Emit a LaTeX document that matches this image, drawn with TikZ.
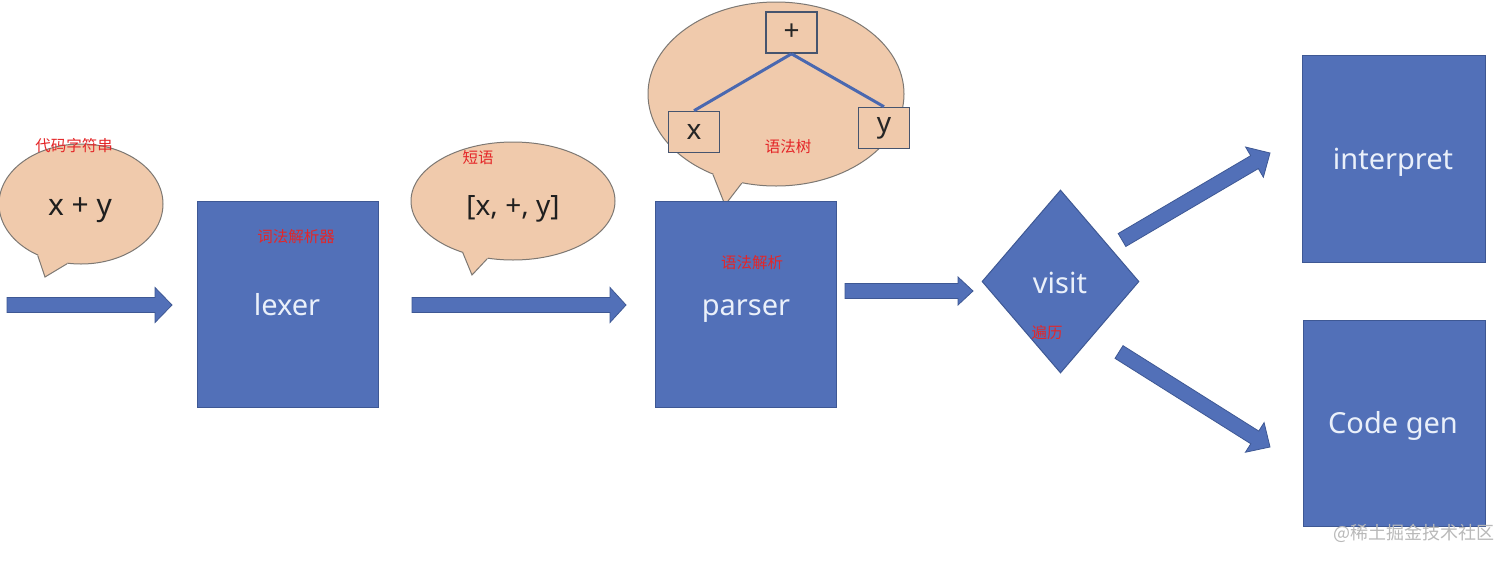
\documentclass[tikz,border=0pt]{standalone}
\usepackage{fontspec}
\setmainfont{Noto Sans}
\newfontfamily\cjk{Noto Sans CJK SC}
\usetikzlibrary{shapes.geometric,calc}
\definecolor{boxblue}{RGB}{82,112,184}
\definecolor{boxedge}{RGB}{62,88,148}
\definecolor{peach}{RGB}{240,202,172}
\definecolor{bubedge}{RGB}{125,120,115}
\definecolor{treeedge}{RGB}{70,84,110}
\definecolor{treeline}{RGB}{74,104,176}
\definecolor{redlab}{RGB}{228,38,40}
\definecolor{wtext}{RGB}{234,240,250}
\definecolor{marktext}{RGB}{185,185,185}
\tikzset{
  bluebox/.style={draw=boxedge, fill=boxblue, line width=1pt, inner sep=0pt, minimum width=181pt, minimum height=206pt},
  bubble/.style={ellipse, draw=bubedge, fill=peach, line width=1pt, inner sep=0pt},
  bubtail/.style={draw=bubedge, line width=1pt, line join=miter},
  treebox/.style={draw=treeedge, fill=peach, line width=1.6pt, minimum width=51pt, minimum height=41pt, inner sep=0pt, font=\fontsize{28}{30}\selectfont, text=black!85},
  treeedgeline/.style={draw=treeline, line width=3pt},
  blockarrow/.style={fill=boxblue, draw=boxedge, line width=0.8pt, line join=miter},
  whitelabel/.style={anchor=base, inner sep=0pt, text=wtext, font=\fontsize{29}{32}\selectfont},
  blacklabel/.style={anchor=base, inner sep=0pt, text=black!88, font=\fontsize{30}{32}\selectfont},
  redlabel/.style={inner sep=0pt, text=redlab, font=\cjk\fontsize{15.5}{17}\selectfont},
}
% block arrow: start, end, shaft half width, head half width, head length
\newcommand\blockarr[5]{%
  \coordinate (bh) at ($(#2)!#5!(#1)$);
  \path[blockarrow] ($(#1)!#3!90:(#2)$) -- ($(bh)!#3!90:(#2)$) -- ($(bh)!#4!90:(#2)$) -- (#2)
    -- ($(bh)!#4!-90:(#2)$) -- ($(bh)!#3!-90:(#2)$) -- ($(#1)!#3!-90:(#2)$) -- cycle;}
% speech bubble tail: bubble node, angle 1, tip, angle 2
\newcommand\bubtailpath[4]{%
  \fill[peach] (#1.#2) -- (#3) -- (#1.#4) -- ($(#1.center)!0.8!(#1.#4)$) -- ($(#1.center)!0.8!(#1.#2)$) -- cycle;
  \draw[bubtail] (#1.#2) -- (#3) -- (#1.#4);}
\begin{document}
\begin{tikzpicture}[x=1pt,y=-1pt]
\fill[white] (0,0) rectangle (1512,560);
\useasboundingbox (0,0) rectangle (1512,560);

% bubble 1
\node[bubble, minimum width=164pt, minimum height=120pt] (b1) at (81,204) {};
\coordinate (t1) at (45,277);
\bubtailpath{b1}{230}{t1}{257}
\node[blacklabel] (xy) at (80,215) {x + y};

% bubble 2
\node[bubble, minimum width=204pt, minimum height=118pt] (b2) at (513,201) {};
\coordinate (t2) at (472,275);
\bubtailpath{b2}{226}{t2}{246}
\node[blacklabel, font=\fontsize{28}{32}\selectfont] (list) at (513,215) {[x, +, y]};

% bubble 3 with tree
\node[bubble, minimum width=256pt, minimum height=184pt] (b3) at (776,94) {};
\coordinate (t3) at (725,205);
\bubtailpath{b3}{232}{t3}{249}
\node[treebox] (plus) at (791.5,32.5) {+};
\node[treebox] (tx) at (694,132) {x};
\node[treebox] (ty) at (884,128) {y};
\draw[treeedgeline] (plus.south) -- (tx.north);
\draw[treeedgeline] (plus.south) -- (ty.north);

% main boxes
\node[bluebox] (lexer) at (287.5,304) {};
\node[whitelabel] (lexert) at (287,315) {lexer};
\node[bluebox] (parser) at (745.5,304) {};
\node[whitelabel] (parsert) at (746,315) {parser};
\node[diamond, draw=boxedge, fill=boxblue, line width=1pt, inner sep=0pt, minimum width=157pt, minimum height=183pt] (visit) at (1060.5,281.5) {};
\node[whitelabel] (visitt) at (1060,293) {visit};
\node[bluebox, minimum width=183pt, minimum height=207pt] (interp) at (1393.5,158.5) {};
\node[whitelabel] (interpt) at (1393,169) {interpret};
\node[bluebox, minimum width=182pt, minimum height=206pt] (codegen) at (1394,423) {};
\node[whitelabel] (codegent) at (1393,433) {Code gen};

% block arrows
\coordinate (a1s) at (7,305);     \coordinate (a1e) at (172,305);
\coordinate (a2s) at (412,305);   \coordinate (a2e) at (626,305);
\coordinate (a3s) at (845,291);   \coordinate (a3e) at (973,291);
\coordinate (a4s) at (1122,240);  \coordinate (a4e) at (1270,153);
\coordinate (a5s) at (1119,352);  \coordinate (a5e) at (1270,447);
\blockarr{a1s}{a1e}{7.5pt}{17.5pt}{17pt}
\blockarr{a2s}{a2e}{7.5pt}{17.5pt}{16pt}
\blockarr{a3s}{a3e}{7.5pt}{14pt}{15pt}
\blockarr{a4s}{a4e}{7.5pt}{17.5pt}{18pt}
\blockarr{a5s}{a5e}{7.5pt}{17.5pt}{18pt}

% red annotations
\node[redlabel] (r1) at (74,146) {代码字符串};
\node[redlabel] (r2) at (296,237) {词法解析器};
\node[redlabel] (r3) at (478,158) {短语};
\node[redlabel] (r4) at (788,147) {语法树};
\node[redlabel] (r5) at (752,263) {语法解析};
\node[redlabel] (r6) at (1047,333) {遍历};

% watermark
\node[inner sep=0pt, text=marktext, font=\cjk\fontsize{18}{20}\selectfont] (wm) at (1414,533) {@稀土掘金技术社区};
\end{tikzpicture}
\end{document}
